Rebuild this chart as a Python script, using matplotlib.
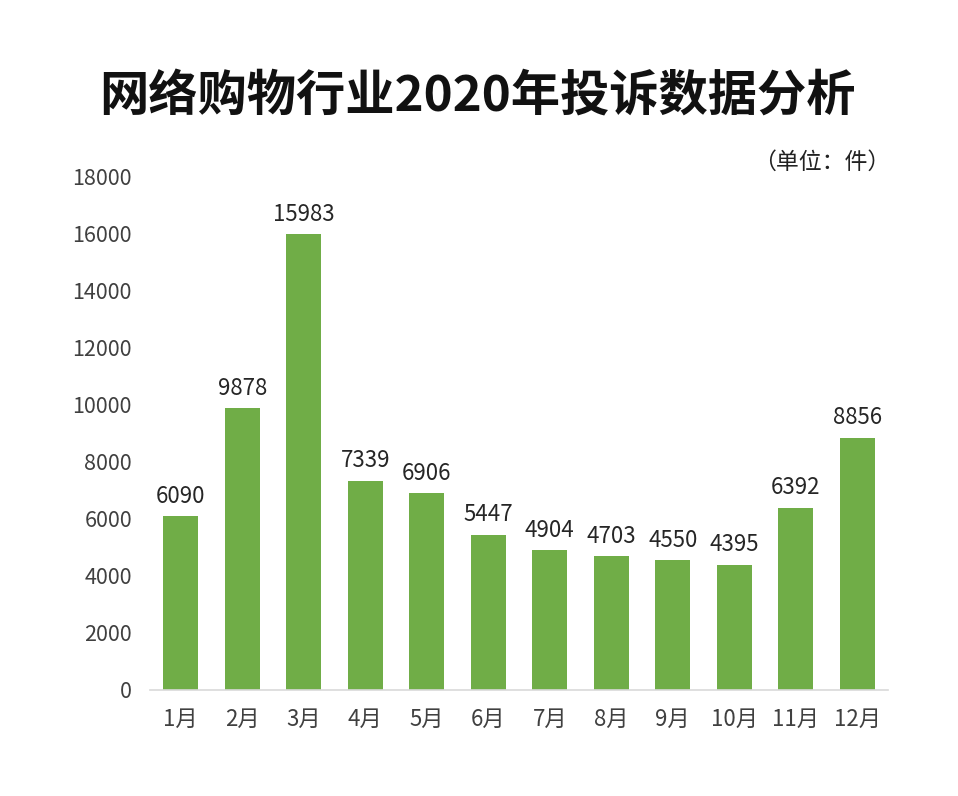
import matplotlib
matplotlib.use("Agg")
import matplotlib.pyplot as plt

plt.rcParams['font.family'] = ['Noto Sans CJK SC', 'DejaVu Sans']

months = ["1月", "2月", "3月", "4月", "5月", "6月", "7月", "8月", "9月", "10月", "11月", "12月"]
complaints = [6090, 9878, 15983, 7339, 6906, 5447, 4904, 4703, 4550, 4395, 6392, 8856]
yticks = [0, 2000, 4000, 6000, 8000, 10000, 12000, 14000, 16000, 18000]

fig = plt.figure(figsize=(9.58, 7.96), dpi=100)
ax = fig.add_axes([0.1566, 0.1332, 0.7704, 0.6445])

x = range(len(months))
bars = ax.bar(x, complaints, width=0.57, color="#70AD47")
for b, v in zip(bars, complaints):
    ax.annotate(str(v), (b.get_x() + b.get_width() / 2, v), xytext=(0, 6),
                textcoords="offset points", ha="center", va="bottom",
                fontsize=16, color="#262626")

ax.set_xlim(-0.5, 11.5)
ax.set_ylim(0, 18000)
ax.set_yticks(yticks)
ax.set_yticklabels([str(t) for t in yticks], fontsize=15.5, color="#404040")
ax.set_xticks(list(x))
ax.set_xticklabels(months, fontsize=16, color="#404040")
ax.tick_params(axis="both", length=0)
ax.tick_params(axis="y", pad=13)
ax.tick_params(axis="x", pad=13)

for s in ["top", "right", "left"]:
    ax.spines[s].set_visible(False)
ax.spines["bottom"].set_color("#D9D9D9")
ax.spines["bottom"].set_linewidth(1.2)

fig.text(0.498, 0.878, "网络购物行业2020年投诉数据分析", ha="center", va="center",
         fontsize=35.5, fontweight="bold", color="#111111")
fig.text(0.929, 0.796, "（单位：件）", ha="right", va="center", fontsize=16.5, color="#222222")

fig.savefig("out.png", dpi=100, facecolor="white")
